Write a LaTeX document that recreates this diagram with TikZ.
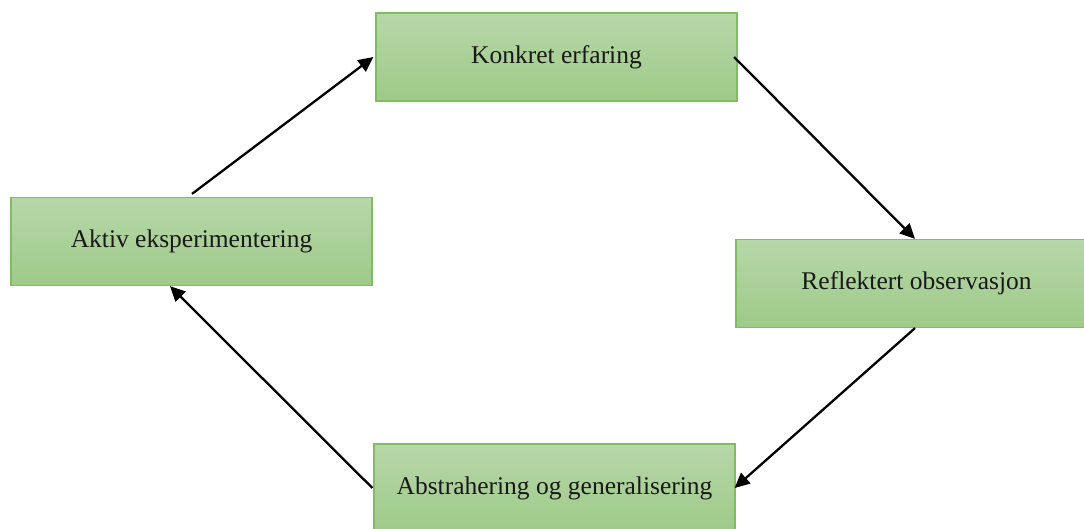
\documentclass[tikz,border=0pt]{standalone}
\usepackage{fontspec}
\setmainfont{Liberation Serif}
\usetikzlibrary{arrows.meta,calc}
\definecolor{boxtop}{RGB}{183,215,169}
\definecolor{boxbot}{RGB}{158,202,136}
\definecolor{boxline}{RGB}{128,188,98}
\tikzset{
  stage/.style={draw=boxline, line width=1.2pt, top color=boxtop, bottom color=boxbot,
    minimum width=361pt, minimum height=88pt, inner sep=0pt,
    font=\fontsize{25.5}{30}\selectfont, text=black!90},
  flow/.style={line width=2.3pt, -{Triangle[length=15pt,width=14pt]}}
}
\begin{document}
\begin{tikzpicture}[x=1pt,y=-1pt]
\useasboundingbox (0,0) rectangle (1084,528);
\clip (0,0) rectangle (1084,528);
\node[stage] (konkret) at (556.5,57) {Konkret erfaring};
\node[stage] (aktiv) at (191.5,241.5) {Aktiv eksperimentering};
\node[stage] (refl) at (916.5,283.5) {Reflektert observasjon};
\node[stage] (abstr) at (554.5,488) {Abstrahering og generalisering};
\draw[flow] ([xshift=0.5pt,yshift=3pt]aktiv.north) -- ([xshift=-2pt]konkret.west);
\draw[flow] ([xshift=-3.5pt]konkret.east) -- ([xshift=-1.5pt]refl.north);
\draw[flow] ([xshift=-1.5pt]refl.south) -- ([xshift=-1pt]abstr.east);
\draw[flow] ([xshift=-1pt]abstr.west) -- ([xshift=-21.5pt]aktiv.south);
\end{tikzpicture}
\end{document}
